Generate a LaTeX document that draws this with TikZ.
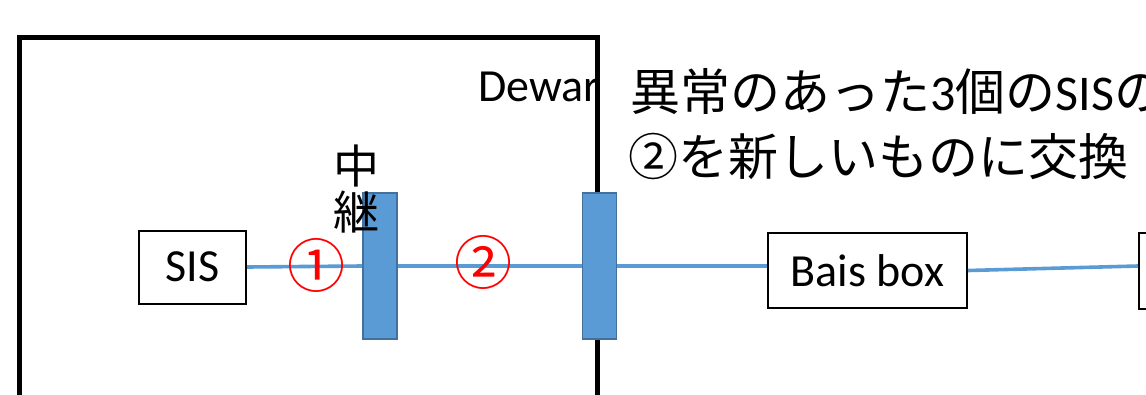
\documentclass[tikz,border=0pt]{standalone}
\usepackage{fontspec}
\setmainfont{Carlito}
\newfontfamily\jp{Noto Sans CJK JP}
\definecolor{portblue}{RGB}{91,155,213}
\definecolor{portedge}{RGB}{65,113,156}
\begin{document}
\begin{tikzpicture}[x=1pt,y=-1pt,
  lab/.style={inner sep=0pt, font=\fontsize{46}{50}\selectfont},
  box/.style={draw=black, line width=2pt, fill=white, inner sep=0pt, font=\fontsize{46}{50}\selectfont},
  portbox/.style={draw=portedge, line width=1.8pt, fill=portblue, minimum width=34pt, minimum height=146pt, inner sep=0pt},
  wire/.style={draw=portblue, line width=3.6pt},
  numlabel/.style={inner sep=0pt, anchor=base, text=red, font=\jp\fontsize{58}{58}\selectfont},
  jpt/.style={inner sep=0pt, anchor=base west, font=\fontsize{50}{63}\selectfont},
  vjp/.style={inner sep=0pt, anchor=base, font=\jp\fontsize{46}{46}\selectfont}
]
\clip (0,0) rectangle (1146,394);
\fill[white] (0,0) rectangle (1146,394);
% label under the dewar wall
\node[lab, anchor=base west] (dewar) at (478,101) {Dewar};
% dewar wall
\draw[line width=5pt] (19,430) -- (19,37) -- (597,37) -- (597,430);
% boxes
\node[box, minimum width=107pt, minimum height=73pt] (sis) at (192.5,267) {SIS};
\node[box, minimum width=199pt, minimum height=75pt] (bais) at (867.5,270.5) {Bais box};
\node[box, minimum width=130pt, minimum height=76pt] (rbox) at (1204,271) {};
\node[portbox] (relay) at (380,266) {};
\node[portbox] (port) at (599.5,266) {};
% wires
\draw[wire] (sis.east) -- (relay.west);
\draw[wire] (relay.east) -- (port.west);
\draw[wire] (port.east) -- (port.east -| bais.west);
\draw[wire] (bais.east) -- ([yshift=5pt]rbox.west);
% texts
\node[vjp] (chu) at (356,183) {中};
\node[vjp] (kei) at (356,229) {継};
\node[numlabel] (n1) at (316,287) {①};
\node[numlabel] (n2) at (483,284) {②};
\node[jpt] (note1) at (630,110) {{\jp 異常のあった}3{\jp 個の}SIS{\jp の}};
\node[jpt] (note2) at (628,175) {{\jp ②を新しいものに交換}};
\end{tikzpicture}
\end{document}
